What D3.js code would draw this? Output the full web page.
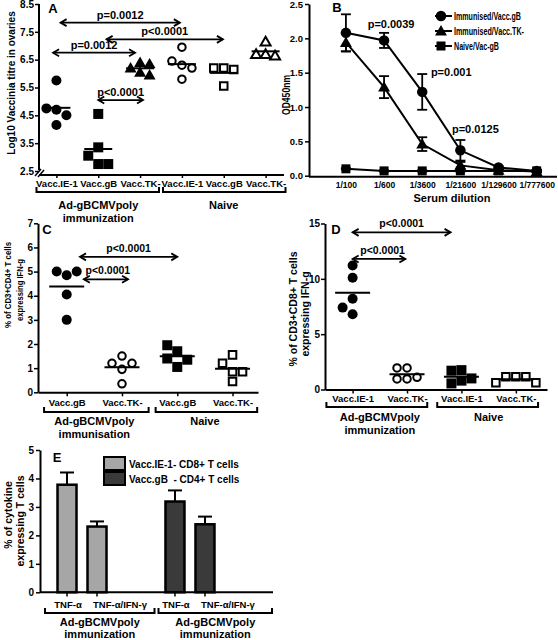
<!DOCTYPE html>
<html><head><meta charset="utf-8">
<script src="https://cdn.jsdelivr.net/npm/d3@7"></script>
<style>
body{margin:0;background:#fff}
text{font-family:"Liberation Sans",Arial,sans-serif;font-weight:bold;fill:#000}
</style>
</head><body>
<svg id="c" width="558" height="640"></svg>
<script>
// ---------------- DATA ----------------
// Panel A
const aCategories = ["Vacc.IE-1","Vacc.gB","Vacc.TK-","Vacc.IE-1 ","Vacc.gB ","Vacc.TK- "];
const aGroupLabels = [["Ad-gBCMVpoly","immunization"],["Naive"]];
const aTicks = [2.5,3.5,4.5,5.5,6.5,7.5,8.5];
const aImmIE1 = [5.75,4.7,4.75,4.5,4.15];
const aImmGB = [4.55,3.35,3.05,2.75,2.75];
const aImmTK = [6.4,6.2,6.35,6.05,5.95];
const aNaiveIE1 = [6.95,6.3,6.45,6.2,5.8];
const aNaiveGB = [6.2,6.2,6.15,5.55];
const aNaiveTK = [7.15,6.7,6.7,6.65];
const aPLabels = ["p=0.0012","p<0.0001","p=0.0012","p<0.0001"];
const aPFrom = [0.1,1.2,-0.08,1.0];
const aPTo = [2.95,3.98,1.88,2.07];
const aPLevel = [7.83,7.23,6.75,5.05];

// Panel B
const bDilutions = ["1/100","1/600","1/3600","1/21600","1/129600","1/777600"];
const bTicks = [0,0.5,1,1.5,2,2.5];
const bSeriesNames = ["Immunised/Vacc.gB","Immunised/Vacc.TK-","Naive/Vac-gB"];
const bImmGB = [2.08,1.97,1.22,0.37,0.12,0.07];
const bImmGBErr = [0.27,0.11,0.26,0.15,0.02,0.01];
const bImmTK = [1.94,1.29,0.46,0.15,0.08,0.06];
const bImmTKErr = [0.13,0.16,0.1,0.05,0.01,0.01];
const bNaive = [0.1,0.07,0.07,0.07,0.07,0.07];
const bNaiveErr = [0.01,0.01,0.01,0.01,0.01,0.01];
const bPLabels = ["p=0.0039","p=0.001","p=0.0125"];
const bPAt = ["1/600","1/3600","1/21600"];

// Panel C
const cCategories = ["Vacc.gB","Vacc.TK-","Vacc.gB ","Vacc.TK- "];
const cGroupLabels = [["Ad-gBCMVpoly","immunisation"],["Naive"]];
const cTicks = [0,1,2,3,4,5,6,7];
const cImmGB = [4.85,5.0,5.0,4.05,3.0];
const cImmTK = [1.5,1.2,1.2,0.95,0.35];
const cNaiveGB = [1.7,1.95,1.4,1.35,1.05];
const cNaiveTK = [1.55,1.2,0.85,0.85,0.45];
const cPLabels = ["p<0.0001","p<0.0001"];
const cPFrom = [0.24,0.31];
const cPTo = [2.0,1.11];
const cPLevel = [5.61,4.68];

// Panel D
const dCategories = ["Vacc.IE-1","Vacc.TK-","Vacc.IE-1 ","Vacc.TK- "];
const dGroupLabels = [["Ad-gBCMVpoly","immunization"],["Naive"]];
const dTicks = [0,5,10,15];
const dImmIE1 = [10.1,11.2,8.2,7.4,6.8];
const dImmTK = [1.95,1.95,1.1,0.95,0.95];
const dNaiveIE1 = [1.75,1.7,1.0,0.8,0.55];
const dNaiveTK = [1.15,1.15,1.15,0.6,0.6];
const dPLabels = ["p<0.0001","p<0.0001"];
const dPFrom = [0,0];
const dPTo = [1.8,0.97];
const dPLevel = [14.2,11.8];

// Panel E
const eMeasures = ["TNF-\u03B1","TNF-\u03B1/IFN-\u03B3"];
const eGroups = ["g1","g2"];
const eGroupLabels = [["Ad-gBCMVpoly","immunization"],["Ad-gBCMVpoly","immunization"]];
const eSeriesNames = ["Vacc.IE-1- CD8+ T cells","Vacc.gB  - CD4+ T cells"];
const eTicks = [0,1,2,3,4,5];
const eCD8 = [3.78,2.31];
const eCD8Err = [0.43,0.18];
const eCD4 = [3.19,2.39];
const eCD4Err = [0.39,0.27];

// ---------------- HELPERS ----------------
const svg = d3.select("#c");
const FONT = '"Liberation Sans",Arial,sans-serif';
const intFmt = d3.format("d");

function styleAxis(g, fs){
  g.selectAll("path.domain").attr("stroke","#000").attr("stroke-width",2);
  g.selectAll(".tick line").attr("stroke","#000").attr("stroke-width",1.5);
  g.selectAll(".tick text").attr("font-size",fs).attr("font-weight","bold").attr("font-family",FONT).attr("fill","#000");
}
function label(x,y,s,fs,anchor){
  return svg.append("text").attr("x",x).attr("y",y).attr("font-size",fs)
    .attr("text-anchor",anchor||"middle").text(s);
}
function vlabel(x,y,s,fs,len){
  const t = svg.append("text").attr("transform",`translate(${x},${y}) rotate(-90)`)
    .attr("text-anchor","middle").attr("font-size",fs).text(s);
  if(len) t.attr("textLength",len).attr("lengthAdjust","spacingAndGlyphs");
  return t;
}
function catX(scale,i){ return scale(scale.domain()[0]) + i*scale.step(); }
function swarm(values, y, cx, d){
  const placed=[];
  return values.map(v=>{
    const py=y(v);
    for(const k of [0,-1,1,-2,2,-3,3]){
      const px=cx+k*d;
      if(placed.every(p=>Math.hypot(p.x-px,p.y-py)>=d*0.95)){placed.push({x:px,y:py,v});return {x:px,y:py,v};}
    }
  });
}
const symMap = {circle:d3.symbolCircle, square:d3.symbolSquare, triangle:d3.symbolTriangle};
function drawPoints(pts, type, filled, size){
  const area = type==="circle"? Math.PI*(size/2)*(size/2) : type==="square"? size*size : size*size*0.43;
  const gen = d3.symbol().type(symMap[type]).size(filled?area:area*0.7);
  svg.append("g").selectAll("path").data(pts).join("path")
    .attr("transform",p=>`translate(${p.x},${p.y + (type==="triangle"?1:0)})`)
    .attr("d",gen)
    .attr("fill",filled?"#000":"#fff").attr("stroke","#000").attr("stroke-width",filled?0:2);
}
function meanLine(values,y,cx,w){
  const m=d3.mean(values);
  svg.append("line").attr("x1",cx-w/2).attr("x2",cx+w/2).attr("y1",y(m)).attr("y2",y(m))
    .attr("stroke","#000").attr("stroke-width",2);
}
function arrow(x1,x2,yy){
  const g=svg.append("g").attr("stroke","#000").attr("stroke-width",1.8).attr("fill","none");
  g.append("line").attr("x1",x1).attr("x2",x2).attr("y1",yy).attr("y2",yy);
  g.append("path").attr("d",`M${x1+6},${yy-3.5}L${x1},${yy}L${x1+6},${yy+3.5}`);
  g.append("path").attr("d",`M${x2-6},${yy-3.5}L${x2},${yy}L${x2-6},${yy+3.5}`);
}
function bracket(x0,x1,yb){
  svg.append("path").attr("d",`M${x0},${yb-5}V${yb}H${x1}V${yb-5}`)
    .attr("fill","none").attr("stroke","#000").attr("stroke-width",2);
}
function groupLabel(lines,cx,y0,fs,gap){
  lines.forEach((l,i)=>label(cx,y0+i*(gap||13),l,fs));
}

// ---------------- PANEL A ----------------
{
  const y = d3.scaleLinear().domain([2.5,8.5]).range([171,4]);
  const x = d3.scalePoint().domain(aCategories).range([38,284]).padding(0.44);
  const yAxisX = 39, xAxisY = 175;
  const gy = svg.append("g").attr("transform",`translate(${yAxisX},0)`)
    .call(d3.axisLeft(y).tickValues(aTicks).tickFormat(d3.format(".1f")).tickSize(4).tickPadding(1).tickSizeOuter(0));
  styleAxis(gy,10);
  gy.select("path.domain").attr("d",`M0,${y.range()[1]}V${y.range()[0]-1}`);
  const gx = svg.append("g").attr("transform",`translate(0,${xAxisY})`)
    .call(d3.axisBottom(x).tickSize(3).tickPadding(2).tickSizeOuter(0).tickFormat(d=>d.trim()));
  styleAxis(gx,9.5);
  gx.select("path.domain").attr("d",`M${yAxisX},0H${x.range()[1]}`);
  svg.append("path").attr("d",`M${yAxisX-4},${xAxisY+1}L${yAxisX+2},${xAxisY-6}M${yAxisX-1},${xAxisY+2}L${yAxisX+5},${xAxisY-5}`)
    .attr("stroke","#000").attr("stroke-width",1.5);
  vlabel(15,83,"Log10 Vaccinia titre in ovaries",10);
  label(53,13,"A",13);

  const series = [[aImmIE1,"circle",true],[aImmGB,"square",true],[aImmTK,"triangle",true],
                  [aNaiveIE1,"circle",false],[aNaiveGB,"square",false],[aNaiveTK,"triangle",false]];
  series.forEach(([vals,type,filled],i)=>{
    const cx = x(aCategories[i]);
    drawPoints(swarm(vals,y,cx,type==="triangle"?9.5:10),type,filled,type==="triangle"?12:(filled?10:9));
    meanLine(vals,y,cx,28);
  });
  aPLabels.forEach((p,i)=>{
    const x1=catX(x,aPFrom[i]), x2=catX(x,aPTo[i]), yy=y(aPLevel[i]);
    arrow(x1,x2,yy);
    label((x1+x2)/2,yy-4,p,11);
  });
  const st=x.step();
  bracket(x(aCategories[0])-st/2+1, x(aCategories[2])+st/2-2, 192);
  bracket(x(aCategories[3])-st/2+2, x(aCategories[5])+st/2-1, 192);
  groupLabel(aGroupLabels[0],(x(aCategories[0])+x(aCategories[2]))/2,209,11);
  groupLabel(aGroupLabels[1],(x(aCategories[3])+x(aCategories[5]))/2,209,11);
}

// ---------------- PANEL B ----------------
{
  const y = d3.scaleLinear().domain([0,2.5]).range([175.7,4]);
  const x = d3.scalePoint().domain(bDilutions).range([309,557]).padding(0.75).align(0.645);
  const gy = svg.append("g").attr("transform","translate(309,0)")
    .call(d3.axisLeft(y).tickValues(bTicks).tickFormat(d3.format(".1f")).tickSize(4).tickPadding(2).tickSizeOuter(0));
  styleAxis(gy,9.5);
  const gx = svg.append("g").attr("transform","translate(0,176.7)")
    .call(d3.axisBottom(x).tickSize(0).tickPadding(5).tickSizeOuter(0));
  styleAxis(gx,8.5);
  gx.select("path.domain").attr("d",`M309,0H557`);
  label(452,202,"Serum dilution",11);
  vlabel(290,95,"OD450nm",11,40);
  label(337,12,"B",13);

  const series=[[bImmGB,bImmGBErr,"circle"],[bImmTK,bImmTKErr,"triangle"],[bNaive,bNaiveErr,"square"]];
  const lineGen=d3.line().x((d,i)=>x(bDilutions[i])).y(d=>y(d));
  series.forEach(([vals,err,type])=>{
    svg.append("path").attr("d",lineGen(vals)).attr("fill","none").attr("stroke","#000").attr("stroke-width",2);
    const eg=svg.append("g").attr("stroke","#000").attr("stroke-width",1.8);
    vals.forEach((v,i)=>{
      const cx=x(bDilutions[i]);
      eg.append("line").attr("x1",cx).attr("x2",cx).attr("y1",y(v-err[i])).attr("y2",y(v+err[i]));
      [v-err[i],v+err[i]].forEach(e=>eg.append("line").attr("x1",cx-5).attr("x2",cx+5).attr("y1",y(e)).attr("y2",y(e)));
    });
    drawPoints(vals.map((v,i)=>({x:x(bDilutions[i]),y:y(v)})),type,true,type==="triangle"?12:(type==="square"?9:10.5));
  });
  const types=["circle","triangle","square"];
  const legLen=[67,70,45];
  bSeriesNames.forEach((n,i)=>{
    const ly=16+i*15;
    svg.append("line").attr("x1",435).attr("x2",452).attr("y1",ly).attr("y2",ly).attr("stroke","#000").attr("stroke-width",2);
    drawPoints([{x:441,y:ly}],types[i],true,types[i]==="triangle"?12:(types[i]==="square"?9:10.5));
    label(454,ly+3.5,n,10,"start").attr("textLength",legLen[i]).attr("lengthAdjust","spacingAndGlyphs");
  });
  const pOff=[[7,-9],[29,-2],[15,-11]];
  bPLabels.forEach((p,i)=>{
    const idx=bDilutions.indexOf(bPAt[i]);
    const top=y(bImmGB[idx]+bImmGBErr[idx]);
    label(x(bPAt[i])+pOff[i][0],top+pOff[i][1]+4,p,11);
  });
}

// ---------------- PANEL C ----------------
{
  const y = d3.scaleLinear().domain([0,7]).range([392.3,223.3]);
  const x = d3.scalePoint().domain(cCategories).range([38,258]).padding(0.49).align(0.53);
  const gy = svg.append("g").attr("transform","translate(38,0)")
    .call(d3.axisLeft(y).tickValues(cTicks).tickFormat(intFmt).tickSize(4).tickPadding(1).tickSizeOuter(0));
  styleAxis(gy,10);
  const gx = svg.append("g").attr("transform","translate(0,392.3)")
    .call(d3.axisBottom(x).tickSize(4).tickPadding(3).tickSizeOuter(0).tickFormat(d=>d.trim()));
  styleAxis(gx,9.5);
  vlabel(11,285,"% of CD3+CD4+ T cells",9.5,86);
  vlabel(23,290,"expressing  IFN-g",9.5,62);
  label(47,234,"C",13);
  const series=[[cImmGB,"circle",true],[cImmTK,"circle",false],[cNaiveGB,"square",true],[cNaiveTK,"square",false]];
  series.forEach(([vals,type,filled],i)=>{
    const cx=x(cCategories[i]);
    drawPoints(swarm(vals,y,cx,10),type,filled,filled?10:9);
    meanLine(vals,y,cx,35);
  });
  cPLabels.forEach((p,i)=>{
    const x1=catX(x,cPFrom[i]), x2=catX(x,cPTo[i]), yy=y(cPLevel[i]);
    arrow(x1,x2,yy);
    label(i===0?(x1+x2)/2:x1+24,yy-5,p,10.5);
  });
  const st=x.step();
  bracket(x(cCategories[0])-st/2+5, x(cCategories[1])+st/2-1, 412);
  bracket(x(cCategories[2])-st/2+6, x(cCategories[3])+st/2-3, 412);
  groupLabel(cGroupLabels[0],(x(cCategories[0])+x(cCategories[1]))/2,425,11);
  groupLabel(cGroupLabels[1],(x(cCategories[2])+x(cCategories[3]))/2,425,11);
}

// ---------------- PANEL D ----------------
{
  const y = d3.scaleLinear().domain([0,15]).range([389.5,223.5]);
  const x = d3.scalePoint().domain(dCategories).range([325,547]).padding(0.54).align(0.47);
  const gy = svg.append("g").attr("transform","translate(325,0)")
    .call(d3.axisLeft(y).tickValues(dTicks).tickFormat(intFmt).tickSize(4).tickPadding(1).tickSizeOuter(0));
  styleAxis(gy,10);
  const gx = svg.append("g").attr("transform","translate(0,389.5)")
    .call(d3.axisBottom(x).tickSize(4).tickPadding(2).tickSizeOuter(0).tickFormat(d=>d.trim()));
  styleAxis(gx,9.5);
  vlabel(297,309,"% of CD3+CD8+ T cells",10.5);
  vlabel(309,314,"expressing IFN-g",10.5);
  label(336,234,"D",13);
  const series=[[dImmIE1,"circle",true],[dImmTK,"circle",false],[dNaiveIE1,"square",true],[dNaiveTK,"square",false]];
  series.forEach(([vals,type,filled],i)=>{
    const cx=x(dCategories[i]);
    drawPoints(swarm(vals,y,cx,10),type,filled,filled?10:9);
    meanLine(vals,y,cx,35);
  });
  dPLabels.forEach((p,i)=>{
    const x1=catX(x,dPFrom[i]), x2=catX(x,dPTo[i]), yy=y(dPLevel[i]);
    arrow(x1,x2,yy);
    label(i===0?(x1+x2)/2:x1+30,yy-5,p,10.5);
  });
  const st=x.step();
  bracket(x(dCategories[0])-st/2+1, x(dCategories[1])+st/2-7, 407);
  bracket(x(dCategories[2])-st/2+3, x(dCategories[3])+st/2-5, 407);
  groupLabel(dGroupLabels[0],(x(dCategories[0])+x(dCategories[1]))/2,421,11);
  groupLabel(dGroupLabels[1],(x(dCategories[2])+x(dCategories[3]))/2,421,11);
}

// ---------------- PANEL E ----------------
{
  const y = d3.scaleLinear().domain([0,5]).range([592.3,450]);
  const xg = d3.scalePoint().domain(eGroups).range([40,273]).padding(0.579).align(0.336);
  const xi = d3.scalePoint().domain(eMeasures).range([-15,15]);
  const bw = 19;
  const gy = svg.append("g").attr("transform","translate(40,0)")
    .call(d3.axisLeft(y).tickValues(eTicks).tickFormat(intFmt).tickSize(4).tickPadding(2).tickSizeOuter(0));
  styleAxis(gy,10);
  svg.append("line").attr("x1",40).attr("x2",273).attr("y1",592.3).attr("y2",592.3).attr("stroke","#000").attr("stroke-width",2);
  vlabel(12,515,"% of cytokine",10.5);
  vlabel(24,521,"expressing T cells",10.5);
  label(57,462,"E",13);
  const series=[[eCD8,eCD8Err,"#a6a6a6"],[eCD4,eCD4Err,"#3a3a3a"]];
  series.forEach(([vals,err,col],gi)=>{
    vals.forEach((v,mi)=>{
      const cx=xg(eGroups[gi])+xi(eMeasures[mi]);
      svg.append("line").attr("x1",cx).attr("x2",cx).attr("y1",y(v)).attr("y2",y(v+err[mi])).attr("stroke","#000").attr("stroke-width",2);
      svg.append("line").attr("x1",cx-7).attr("x2",cx+7).attr("y1",y(v+err[mi])).attr("y2",y(v+err[mi])).attr("stroke","#000").attr("stroke-width",2);
      svg.append("rect").attr("x",cx-bw/2).attr("y",y(v)).attr("width",bw).attr("height",y(0)-y(v))
        .attr("fill",col).attr("stroke","#000").attr("stroke-width",2.5);
      svg.append("line").attr("x1",cx).attr("x2",cx).attr("y1",592.3).attr("y2",596.5).attr("stroke","#000").attr("stroke-width",1.5);
      label(cx+(mi===0?1:23),607.5,eMeasures[mi],9.5);
    });
  });
  const mid=(40+273)/2;
  bracket(45,mid-2,613);
  bracket(mid+2,272,613);
  groupLabel(eGroupLabels[0],(45+mid-2)/2,626,11,12);
  groupLabel(eGroupLabels[1],(mid+2+272)/2,626,11,12);
  const cols=["#a6a6a6","#3a3a3a"];
  eSeriesNames.forEach((n,i)=>{
    const ly=457+i*15;
    svg.append("rect").attr("x",104).attr("y",ly).attr("width",21).attr("height",13)
      .attr("fill",cols[i]).attr("stroke","#000").attr("stroke-width",2);
    label(129,ly+10.5,n,10,"start").style("white-space","pre");
  });
}
</script>
</body></html>
